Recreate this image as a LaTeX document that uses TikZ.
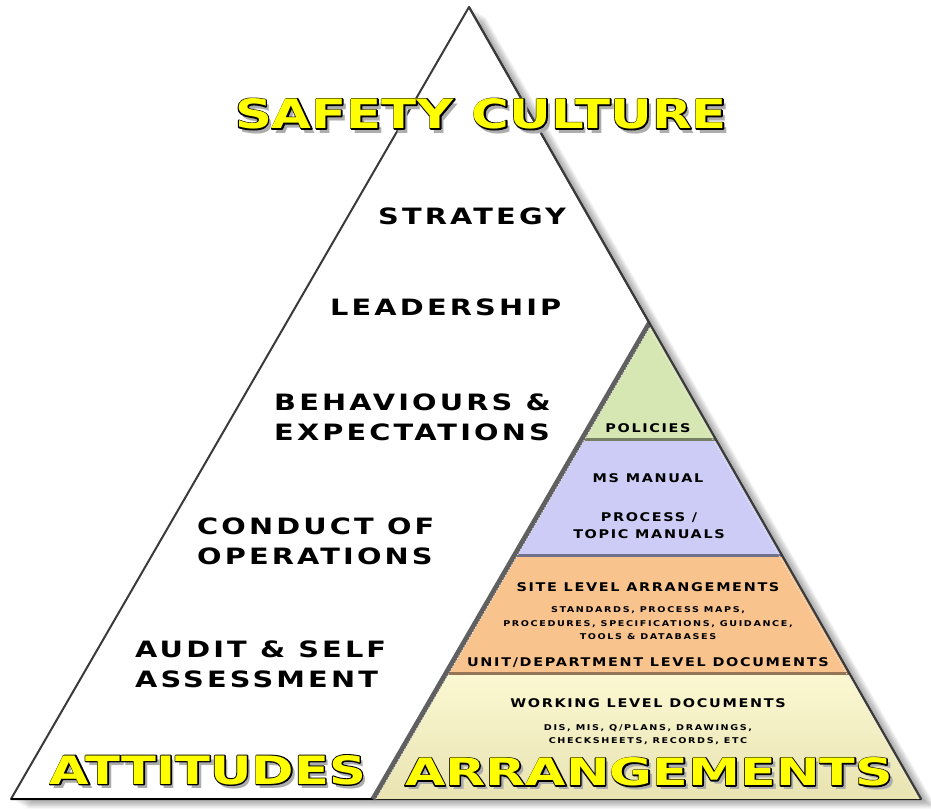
\documentclass[tikz,border=0pt]{standalone}
\usepackage{fontspec}
\usepackage{graphicx}
\usetikzlibrary{calc}

\newfontfamily\signfont[FakeStretch=1.3]{DejaVu Sans}
\newfontfamily\signrim[FakeStretch=1.3,FakeBold=6]{DejaVu Sans}
\newfontfamily\levelfont[FakeStretch=1.28,LetterSpace=14]{DejaVu Sans}
\newfontfamily\docfont[FakeStretch=1.2,LetterSpace=14]{DejaVu Sans}
\newfontfamily\notefont[FakeStretch=1.2,LetterSpace=20]{DejaVu Sans}

\definecolor{polgreen}{HTML}{D6E7B4}
\definecolor{manblue}{HTML}{CCCCF7}
\definecolor{siteorange}{HTML}{F9C38D}
\definecolor{workcream}{HTML}{FBF8D2}
\definecolor{workdark}{HTML}{E9E3B2}
\definecolor{signyellow}{HTML}{FFFF00}
\definecolor{edgegray}{HTML}{3A3A3A}

% one shifted copy of a word, taking no room
\newcommand\rimcopy[4]{\rlap{\smash{\kern#1\raisebox{#2}{\color{#3}#4}}}}
% yellow lettering with a black rim and a grey drop shade, scaled to a box
\newcommand\signword[3]{\resizebox{#1}{#2}{\bfseries
  \rimcopy{0.9pt}{-1.1pt}{black!32}{\signfont#3}%
  \rimcopy{0pt}{0pt}{black}{\signrim#3}%
  {\signfont\color{signyellow}#3}}}

\tikzset{
  level/.style={font=\levelfont\bfseries\fontsize{22.5}{30}\selectfont,
    anchor=west, align=left, inner sep=0pt},
  doc/.style={font=\docfont\bfseries\fontsize{12}{17}\selectfont,
    align=center, inner sep=0pt},
  docnote/.style={font=\notefont\bfseries\fontsize{8}{13.5}\selectfont,
    align=center, inner sep=0pt},
  sign/.style={inner sep=0pt},
}

\begin{document}
\begin{tikzpicture}[x=1pt,y=-1pt,line join=round]
  \useasboundingbox (0,0) rectangle (931,809);

  % Outer triangle (attitudes)
  \coordinate (top) at (469,7);
  \coordinate (bl) at (11,799);
  \coordinate (br) at (921,799);
  \foreach \s in {2,4,...,16}
    \fill[black,opacity=0.05] ([shift={(\s,\s*0.6)}]top) -- ([shift={(\s,\s*0.6)}]bl)
      -- ([shift={(\s,\s*0.6)}]br) -- cycle;
  \fill[white] (top) -- (bl) -- (br) -- cycle;
  \draw[line width=2pt,edgegray] (top) -- (bl) -- (br) -- cycle;
  \draw[line width=2.5pt,black] (bl) -- (br);

  % Inner triangle (arrangements), split into four bands
  \coordinate (itop) at ($(top)!0.399!(br)$);
  \coordinate (ibl) at (373,799);
  \foreach \t [count=\i] in {0.248,0.4916,0.7395} {
    \coordinate (l\i) at ($(itop)!\t!(ibl)$);
    \coordinate (r\i) at ($(itop)!\t!(br)$);
  }
  \fill[polgreen] (itop) -- (l1) -- (r1) -- cycle;
  \fill[manblue] (l1) -- (l2) -- (r2) -- (r1) -- cycle;
  \fill[siteorange] (l2) -- (l3) -- (r3) -- (r2) -- cycle;
  \shade[top color=workcream,bottom color=workdark] (l3) -- (ibl) -- (br) -- (r3) -- cycle;
  \draw[line width=3pt,polgreen!55!black] ($(l1)+(1,-1.5)$) -- ($(r1)+(-1,-1.5)$);
  \draw[line width=3pt,manblue!55!black] ($(l2)+(1,-1.5)$) -- ($(r2)+(-1,-1.5)$);
  \draw[line width=3pt,siteorange!60!black] ($(l3)+(1,-1.5)$) -- ($(r3)+(-1,-1.5)$);
  \draw[line width=5pt,gray!75!black] (ibl) -- (itop);
  \draw[line width=1pt,white!85!gray,dotted] ($(ibl)+(3,0)$) -- ($(itop)+(0,5)$) -- ($(br)+(-3,0)$);
  \draw[line width=2pt,edgegray] (top) -- (br);

  % Attitudes
  \node[level] (strategy) at (378,216) {STRATEGY};
  \node[level] (leadership) at (330,307) {LEADERSHIP};
  \node[level] (behaviours) at (274,417) {BEHAVIOURS \&\\EXPECTATIONS};
  \node[level] (conduct) at (197,541.5) {CONDUCT OF\\OPERATIONS};
  \node[level] (audit) at (135,664.5) {AUDIT \& SELF\\ASSESSMENT};

  % Arrangements
  \node[doc] (policies) at (648,428) {POLICIES};
  \node[doc] (msmanual) at (648,478) {MS MANUAL};
  \node[doc] (topic) at (649,525.5) {PROCESS /\\TOPIC MANUALS};
  \node[doc] (site) at (648,587) {SITE LEVEL ARRANGEMENTS};
  \node[docnote] (standards) at (648,623.5)
    {STANDARDS, PROCESS MAPS,\\PROCEDURES, SPECIFICATIONS, GUIDANCE,\\TOOLS \& DATABASES};
  \node[doc] (unit) at (648,663) {UNIT/DEPARTMENT LEVEL DOCUMENTS};
  \node[doc] (working) at (648,703) {WORKING LEVEL DOCUMENTS};
  \node[docnote] (records) at (648,734.5)
    {DIS, MIS, Q/PLANS, DRAWINGS,\\CHECKSHEETS, RECORDS, ETC};

  % Yellow titles
  \node[sign] (title) at (481,114) {\signword{492pt}{30pt}{SAFETY CULTURE}};
  \node[sign] (attitudes) at (208,770) {\signword{316pt}{29pt}{ATTITUDES}};
  \node[sign] (arrangements) at (649,772) {\signword{488pt}{28pt}{ARRANGEMENTS}};
\end{tikzpicture}
\end{document}
